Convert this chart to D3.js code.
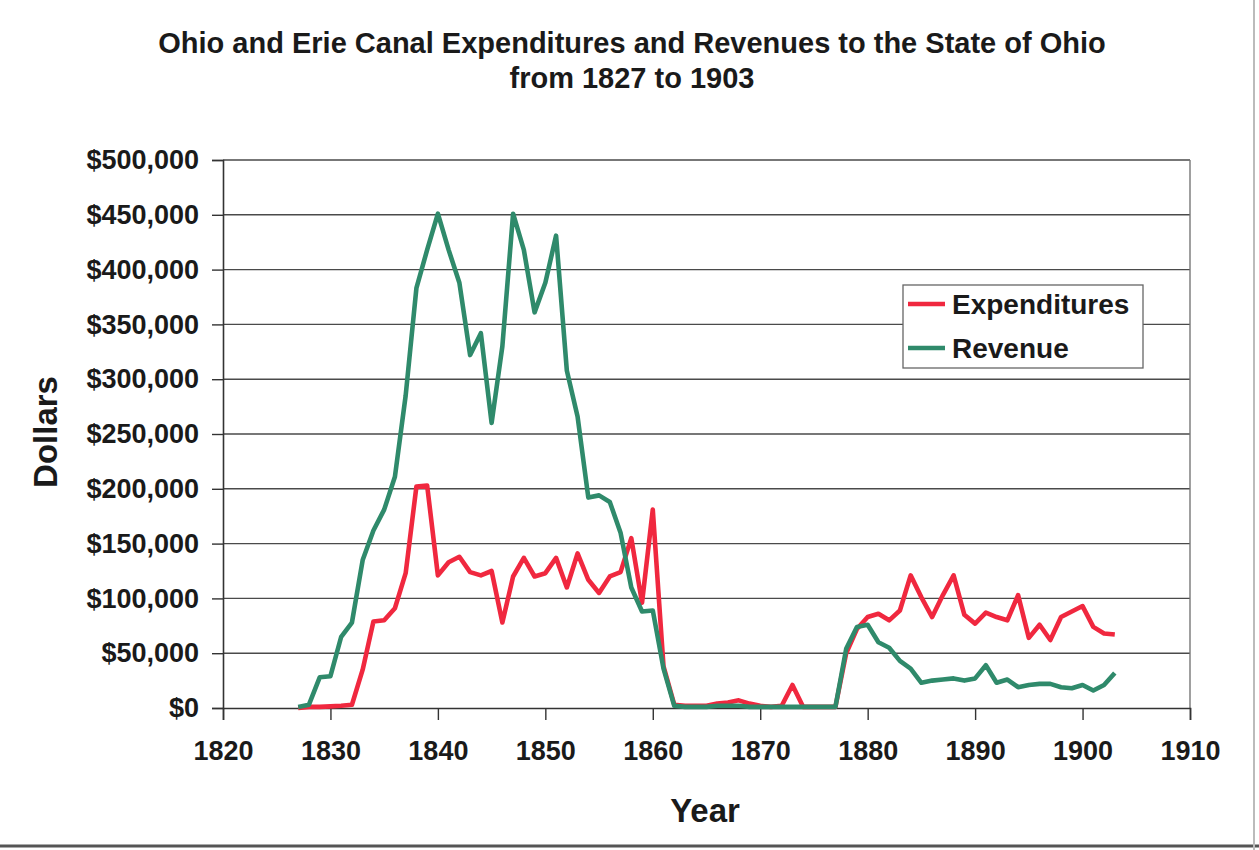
<!DOCTYPE html>
<html>
<head>
<meta charset="utf-8">
<script src="https://cdn.jsdelivr.net/npm/d3@7"></script>
<style>
  html, body { margin: 0; padding: 0; background: #ffffff; }
  svg { display: block; }
  text { font-family: "Liberation Sans", Arial, sans-serif; font-weight: bold; fill: #1a1a1a; }
</style>
</head>
<body>
<svg id="chart" width="1259" height="850"></svg>
<script>
// ---- Data ----
const years = d3.range(1827, 1904);
const expenditures = [
  0, 1000, 1000, 1500, 2000, 3000, 35000, 79000, 80000, 91000,          // 1827-1836
  123000, 202000, 203000, 121000, 133000, 138000, 124000, 121000, 125000, 78000, // 1837-1846
  120000, 137000, 120000, 123000, 137000, 110000, 141000, 117000, 105000, 120000, // 1847-1856
  124000, 155000, 96000, 181000, 38000, 3000, 2000, 2000, 2000, 4000,    // 1857-1866
  5000, 7000, 4000, 2000, 1000, 2000, 21000, 1000, 1000, 1000,           // 1867-1876
  1000, 50000, 72000, 83000, 86000, 80000, 89000, 121000, 101000, 83000, // 1877-1886
  103000, 121000, 85000, 77000, 87000, 83000, 80000, 103000, 64000, 76000, // 1887-1896
  62000, 83000, 88000, 93000, 74000, 68000, 67000                        // 1897-1903
];
const revenue = [
  1000, 3000, 28000, 29000, 65000, 78000, 135000, 162000, 181000, 211000, // 1827-1836
  285000, 383000, 418000, 451000, 418000, 388000, 322000, 342000, 260000, 330000, // 1837-1846
  451000, 418000, 361000, 388000, 431000, 308000, 266000, 192000, 194000, 188000, // 1847-1856
  160000, 110000, 88000, 89000, 36000, 2000, 1000, 1000, 1000, 2000,     // 1857-1866
  2000, 2000, 1000, 1000, 1000, 1000, 1000, 1000, 1000, 1000,            // 1867-1876
  1000, 54000, 74000, 76000, 60000, 55000, 43000, 36000, 23000, 25000,   // 1877-1886
  26000, 27000, 25000, 27000, 39000, 23000, 26000, 19000, 21000, 22000,  // 1887-1896
  22000, 19000, 18000, 21000, 16000, 21000, 32000                        // 1897-1903
];
const seriesNames = ["Expenditures", "Revenue"];
const seriesColors = ["#f0283f", "#2f8a6b"];
const xTicks = [1820, 1830, 1840, 1850, 1860, 1870, 1880, 1890, 1900, 1910];
const yTicks = [0, 50000, 100000, 150000, 200000, 250000, 300000, 350000, 400000, 450000, 500000];
const titleLines = ["Ohio and Erie Canal Expenditures and Revenues to the State of Ohio", "from 1827 to 1903"];

// ---- Layout ----
const svg = d3.select("#chart");
const plotL = 223, plotR = 1190, plotT = 160, plotB = 708;
const x = d3.scaleLinear().domain([1820, 1910]).range([plotL, plotR]);
const y = d3.scaleLinear().domain([0, 500000]).range([plotB, plotT]);

// scan edges
svg.append("line").attr("x1", 0).attr("x2", 1259).attr("y1", 846).attr("y2", 846)
  .attr("stroke", "#555").attr("stroke-width", 3);
svg.append("line").attr("x1", 1254).attr("x2", 1254).attr("y1", 0).attr("y2", 850)
  .attr("stroke", "#bbb").attr("stroke-width", 2);

// gridlines
svg.append("g").selectAll("line").data(yTicks.filter(d => d > 0)).join("line")
  .attr("x1", plotL).attr("x2", plotR)
  .attr("y1", d => y(d)).attr("y2", d => y(d))
  .attr("stroke", "#4a4a4a").attr("stroke-width", 1.4);

// right border of plot area
svg.append("line").attr("x1", plotR).attr("x2", plotR).attr("y1", plotT).attr("y2", plotB)
  .attr("stroke", "#777").attr("stroke-width", 1.4);

// Y axis
const yAxis = svg.append("g").attr("transform", `translate(${plotL},0)`)
  .call(d3.axisLeft(y).tickValues(yTicks).tickFormat(d3.format("$,")).tickSize(11).tickPadding(13));
yAxis.select(".domain").attr("stroke", "#333").attr("stroke-width", 1.6);
yAxis.selectAll(".tick line").attr("stroke", "#333").attr("stroke-width", 1.4);
yAxis.selectAll(".tick text").attr("font-size", 27).attr("font-family", "Liberation Sans, Arial, sans-serif")
  .attr("font-weight", "bold").attr("fill", "#1a1a1a");

// X axis
const xAxis = svg.append("g").attr("transform", `translate(0,${plotB})`)
  .call(d3.axisBottom(x).tickValues(xTicks).tickFormat(d3.format("d")).tickSize(12).tickPadding(21));
xAxis.select(".domain").attr("stroke", "#333").attr("stroke-width", 1.6);
xAxis.selectAll(".tick line").attr("stroke", "#333").attr("stroke-width", 1.4);
xAxis.selectAll(".tick text").attr("font-size", 27).attr("font-family", "Liberation Sans, Arial, sans-serif")
  .attr("font-weight", "bold").attr("fill", "#1a1a1a");

// lines
const seriesData = [expenditures, revenue];
const line = d3.line().x((d, i) => x(years[i])).y(d => y(d));
seriesData.forEach((vals, k) => {
  svg.append("path").datum(vals)
    .attr("fill", "none").attr("stroke", seriesColors[k]).attr("stroke-width", 4.6)
    .attr("stroke-linejoin", "round").attr("d", line);
});

// title
svg.append("text").attr("x", 632).attr("y", 53).attr("text-anchor", "middle")
  .attr("font-size", 29).text(titleLines[0]);
svg.append("text").attr("x", 632).attr("y", 88).attr("text-anchor", "middle")
  .attr("font-size", 29).text(titleLines[1]);

// axis titles
svg.append("text").attr("x", 705).attr("y", 822).attr("text-anchor", "middle")
  .attr("font-size", 33).text("Year");
svg.append("text").attr("transform", "translate(57,432) rotate(-90)").attr("text-anchor", "middle")
  .attr("font-size", 33).text("Dollars");

// legend
const lg = svg.append("g");
lg.append("rect").attr("x", 903).attr("y", 285).attr("width", 240).attr("height", 83)
  .attr("fill", "#ffffff").attr("stroke", "#666").attr("stroke-width", 1.3);
seriesNames.forEach((name, k) => {
  const cy = 304 + k * 44;
  lg.append("line").attr("x1", 908).attr("x2", 945).attr("y1", cy).attr("y2", cy)
    .attr("stroke", seriesColors[k]).attr("stroke-width", 4.6);
  lg.append("text").attr("x", 952).attr("y", cy + 10).attr("font-size", 28).text(name);
});
</script>
</body>
</html>
